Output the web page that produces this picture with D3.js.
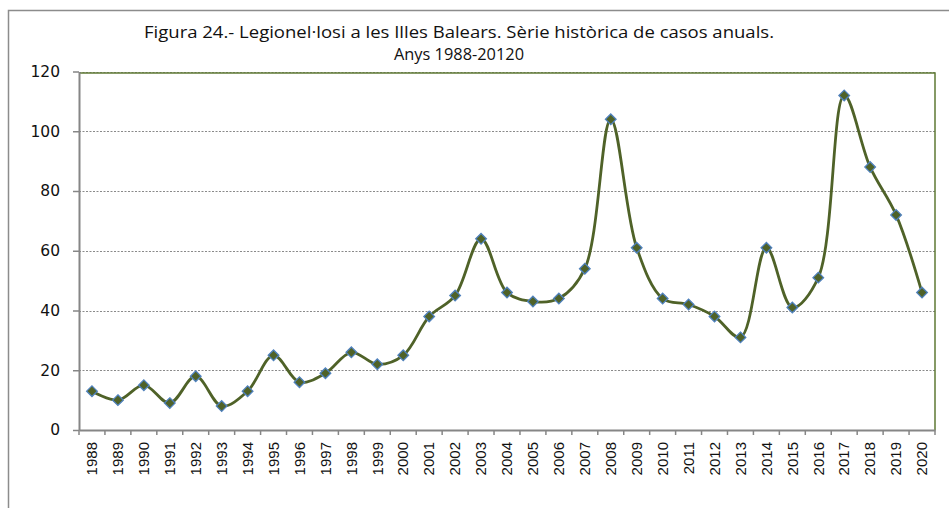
<!DOCTYPE html>
<html><head><meta charset="utf-8">
<script src="https://cdn.jsdelivr.net/npm/d3@7"></script>
<style>body{margin:0;background:#fff}svg{display:block}</style>
</head><body><svg id="c" width="949" height="508"></svg>
<script>
const years = ["1988","1989","1990","1991","1992","1993","1994","1995","1996","1997","1998","1999","2000","2001","2002","2003","2004","2005","2006","2007","2008","2009","2010","2011","2012","2013","2014","2015","2016","2017","2018","2019","2020"];
const cases = [13,10,15,9,18,8,13,25,16,19,26,22,25,38,45,64,46,43,44,54,104,61,44,42,38,31,61,41,51,112,88,72,46];
const yTicks = [0,20,40,60,80,100,120];
const titleLines = ["Figura 24.- Legionel·losi a les Illes Balears. Sèrie històrica de casos anuals.","Anys 1988-20120"];
const titleWidths = [630,130];

const svg = d3.select("#c");
const L=79, R=935, T=71.5, B=430;

// outer frame
svg.append("path").attr("d","M8.5,520 V10.5 H960").attr("fill","none").attr("stroke","#8c8c8c").attr("stroke-width",1.5);

// title
svg.selectAll("text.title").data(titleLines).join("text")
  .attr("x",459).attr("y",(d,i)=>38+i*22).attr("text-anchor","middle")
  .attr("font-family","'Open Sans', sans-serif").attr("font-size",(d,i)=>i===0?17:16).attr("fill","#111")
  .attr("textLength",(d,i)=>titleWidths[i]).attr("lengthAdjust","spacingAndGlyphs")
  .text(d=>d);

const x = d3.scaleBand().domain(years).range([L,R]).padding(0);
const y = d3.scaleLinear().domain([0,120]).range([B,T]);

// gridlines
svg.append("g").selectAll("line").data(yTicks.filter(v=>v>0)).join("line")
  .attr("x1",L).attr("x2",R).attr("y1",d=>Math.round(y(d))+0.5).attr("y2",d=>Math.round(y(d))+0.5)
  .attr("stroke","#8a8a8a").attr("stroke-width",1).attr("stroke-dasharray","2,1.5");

// plot border top/right olive
svg.append("path").attr("d",`M${L},${T+1.5} H${R} V${B}`).attr("fill","none").attr("stroke","#5f7a35").attr("stroke-width",1.5);

// y axis
const ya = svg.append("g").attr("transform",`translate(${L},0)`)
  .call(d3.axisLeft(y).tickValues(yTicks).tickSize(6).tickPadding(13).tickSizeOuter(0));
ya.select(".domain").attr("stroke","#868686").attr("stroke-width",2);
ya.selectAll(".tick line").attr("stroke","#868686").attr("stroke-width",1.5);
ya.selectAll("text").attr("font-family","'DejaVu Sans', sans-serif").attr("font-size",15.5).attr("fill","#111");

// x axis
const xa = svg.append("g").attr("transform",`translate(0,${B})`)
  .call(d3.axisBottom(x).tickSize(0).tickSizeOuter(0));
xa.select(".domain").attr("stroke","#868686").attr("stroke-width",2);
xa.selectAll(".tick text").attr("font-family","'Liberation Sans', Arial, sans-serif").attr("font-size",15).attr("fill","#111")
  .attr("transform","rotate(-90)").attr("text-anchor","end").attr("x",-12).attr("y",0).attr("dy","0.35em");
// tick marks between categories
const bounds = years.map(d=>x(d)).concat([R]);
svg.append("g").selectAll("line").data(bounds).join("line")
  .attr("x1",d=>d).attr("x2",d=>d).attr("y1",B).attr("y2",B+5)
  .attr("stroke","#868686").attr("stroke-width",1.5);

const cx = d=>x(d)+x.bandwidth()/2;
const pts = years.map((d,i)=>[cx(d),y(cases[i])]);

svg.append("path").attr("d",d3.line().curve(d3.curveCatmullRom.alpha(0.5))(pts))
  .attr("fill","none").attr("stroke","#4f6228").attr("stroke-width",2.8);

svg.append("g").selectAll("path").data(pts).join("path")
  .attr("transform",d=>`translate(${d[0]},${d[1]})`)
  .attr("d",d3.symbol(d3.symbolDiamond2,72)())
  .attr("fill","#4f6228").attr("stroke","#4f81bd").attr("stroke-width",1.3);
</script></body></html>
